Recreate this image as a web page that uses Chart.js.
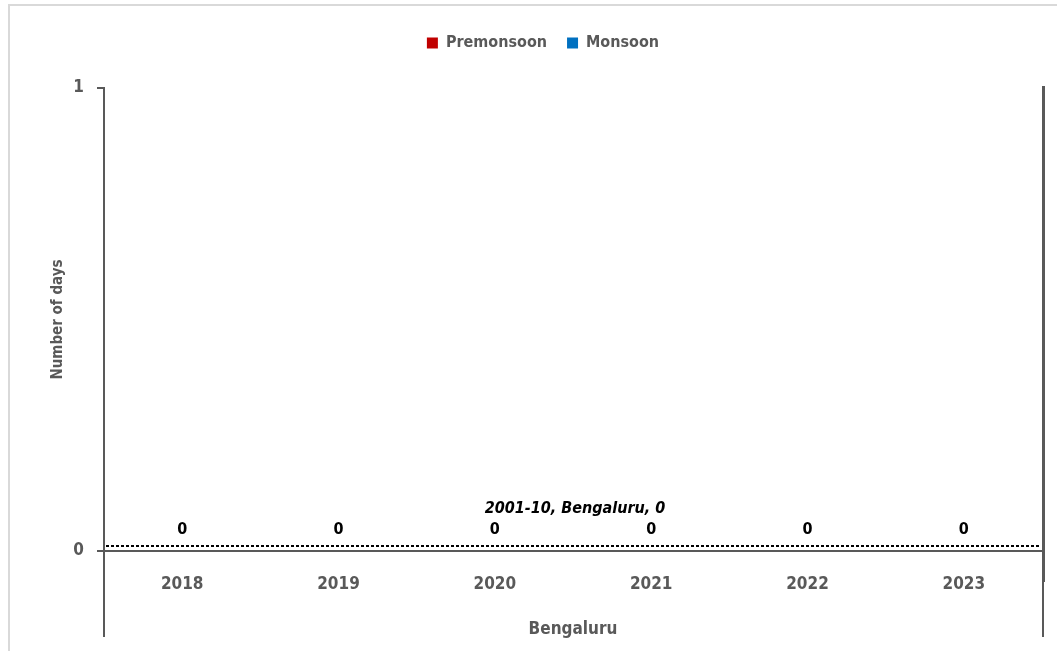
<!DOCTYPE html>
<html>
<head>
<meta charset="utf-8">
<script src="https://cdn.jsdelivr.net/npm/chart.js@4/dist/chart.umd.min.js"></script>
<style>
  html, body { margin: 0; padding: 0; background: #fff; overflow: hidden; }
  #wrap { position: absolute; left: 0; top: 0; width: 1057px; height: 651px; }
</style>
</head>
<body>
<div id="wrap"><canvas id="c" width="1057" height="651"></canvas></div>
<script>
// Rainy days per season, Bengaluru
const years = ['2018', '2019', '2020', '2021', '2022', '2023'];
const premonsoonDays = [0, 0, 0, 0, 0, 0];
const monsoonDays = [0, 0, 0, 0, 0, 0];
const baselineName = '2001-10, Bengaluru';
const baselineDays = 0;
const yTickValues = [0, 1];
const cityName = 'Bengaluru';
const yTitle = 'Number of days';

const FONT = "'DejaVu Sans Condensed', 'Liberation Sans Narrow', sans-serif";
const GREY = '#595959';

// light outer frame of the chart
const framePlugin = {
  id: 'frame',
  beforeDraw(chart) {
    const ctx = chart.ctx;
    ctx.save();
    ctx.strokeStyle = '#d9d9d9';
    ctx.lineWidth = 2;
    ctx.beginPath();
    ctx.moveTo(9, chart.height);
    ctx.lineTo(9, 5);
    ctx.lineTo(chart.width, 5);
    ctx.stroke();
    ctx.restore();
  }
};

// vertical axis lines continued below the category labels, plus right edge line
const edgeLinesPlugin = {
  id: 'edgeLines',
  afterDraw(chart) {
    const { ctx, chartArea } = chart;
    const bottomEnd = chart.height - 14;
    ctx.save();
    ctx.strokeStyle = GREY;
    ctx.lineWidth = 2;
    ctx.beginPath();
    ctx.moveTo(chartArea.left, chartArea.bottom);
    ctx.lineTo(chartArea.left, bottomEnd);
    ctx.stroke();
    const rx = chartArea.right + 1;
    ctx.lineWidth = 3;
    ctx.beginPath();
    ctx.moveTo(rx + 0.5, chartArea.top - 2);
    ctx.lineTo(rx + 0.5, chartArea.bottom + 31);
    ctx.stroke();
    ctx.lineWidth = 2;
    ctx.beginPath();
    ctx.moveTo(rx, chartArea.bottom + 31);
    ctx.lineTo(rx, bottomEnd);
    ctx.stroke();
    ctx.restore();
  }
};

// 2001-10 reference line with its caption, and per-year value labels
const baselinePlugin = {
  id: 'baseline',
  afterDatasetsDraw(chart) {
    const { ctx, chartArea, scales } = chart;
    const py = Math.round(scales.y2.getPixelForValue(baselineDays));
    ctx.save();
    ctx.strokeStyle = '#000';
    ctx.lineWidth = 2;
    ctx.setLineDash([3, 2]);
    ctx.beginPath();
    ctx.moveTo(chartArea.left + 2, py);
    ctx.lineTo(chartArea.right - 2, py);
    ctx.stroke();
    ctx.setLineDash([]);
    ctx.fillStyle = '#000';
    ctx.textAlign = 'center';
    ctx.textBaseline = 'middle';
    ctx.font = `italic bold 16px ${FONT}`;
    ctx.fillText(`${baselineName}, ${baselineDays}`, (chartArea.left + chartArea.right) / 2 + 2, py - 37);

    ctx.font = `bold 16px ${FONT}`;
    years.forEach((yr, i) => {
      const total = premonsoonDays[i] + monsoonDays[i];
      const x = scales.x.getPixelForValue(i);
      const y = scales.y.getPixelForValue(total) - 21;
      ctx.fillText(String(total), x, y);
    });
    ctx.restore();
  }
};

new Chart(document.getElementById('c'), {
  type: 'bar',
  data: {
    labels: years,
    datasets: [
      { label: 'Premonsoon', data: premonsoonDays, backgroundColor: '#C00000', yAxisID: 'y' },
      { label: 'Monsoon', data: monsoonDays, backgroundColor: '#0070C0', yAxisID: 'y' }
    ]
  },
  options: {
    responsive: false,
    animation: false,
    layout: { padding: { top: 15, left: 44, right: 15, bottom: 0 } },
    plugins: {
      legend: {
        position: 'top',
        labels: {
          boxWidth: 11,
          boxHeight: 11,
          padding: 20,
          color: GREY,
          font: { family: FONT, size: 16, weight: 'bold' }
        }
      },
      tooltip: { enabled: false }
    },
    scales: {
      top: {
        type: 'category',
        position: 'top',
        display: true,
        grid: { display: false },
        border: { display: false },
        ticks: { display: false },
        afterFit(s) { s.height = 27; }
      },
      x: {
        position: 'bottom',
        grid: { display: false, drawTicks: false },
        border: { display: true, color: GREY, width: 2 },
        ticks: {
          color: GREY,
          padding: 23,
          font: { family: FONT, size: 17, weight: 'bold' }
        },
        title: {
          display: true,
          text: cityName,
          color: GREY,
          padding: { top: 12, bottom: 11 },
          font: { family: FONT, size: 17, weight: 'bold' }
        },
        afterFit(s) { s.height = 100; }
      },
      y: {
        position: 'left',
        min: 0,
        max: 1,
        afterBuildTicks(s) { s.ticks = yTickValues.map(v => ({ value: v })); },
        grid: { drawOnChartArea: false, drawTicks: true, tickLength: 7, color: GREY, lineWidth: 2 },
        border: { display: true, color: GREY, width: 2 },
        ticks: {
          color: GREY,
          padding: 13,
          font: { family: FONT, size: 17, weight: 'bold' }
        },
        title: {
          display: true,
          text: yTitle,
          color: GREY,
          padding: { top: 5, bottom: 4 },
          font: { family: FONT, size: 15, weight: 'bold' }
        },
        afterFit(s) { s.width = 60; }
      },
      y2: {
        position: 'right',
        display: false,
        min: -0.011,
        max: 1
      }
    }
  },
  plugins: [framePlugin, edgeLinesPlugin, baselinePlugin]
});
</script>
</body>
</html>
